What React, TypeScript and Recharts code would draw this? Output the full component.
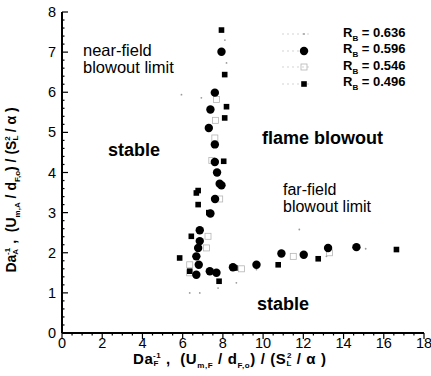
import { ScatterChart, Scatter, XAxis, YAxis } from 'recharts';

// R_B = 0.636 (tiny gray dots)
const rb636 = [
  { x: 5.94, y: 5.94 }, { x: 6.93, y: 5.86 }, { x: 8.18, y: 6.73 }, { x: 8.1, y: 7.3 },
  { x: 6.35, y: 1.0 }, { x: 6.85, y: 1.0 }, { x: 7.76, y: 1.12 }, { x: 8.67, y: 1.25 },
  { x: 9.67, y: 1.58 }, { x: 11.8, y: 2.58 }, { x: 13.15, y: 1.91 }, { x: 15.1, y: 2.1 },
];
// R_B = 0.596 (filled circles)
const rb596 = [
  { x: 7.93, y: 7.01 }, { x: 7.6, y: 5.99 }, { x: 7.38, y: 5.57 }, { x: 7.3, y: 5.11 },
  { x: 7.6, y: 4.7 }, { x: 7.6, y: 4.26 }, { x: 7.71, y: 4.0 }, { x: 7.84, y: 3.72 },
  { x: 7.93, y: 3.68 }, { x: 7.61, y: 3.34 }, { x: 7.38, y: 2.98 }, { x: 6.85, y: 2.56 },
  { x: 6.85, y: 2.29 }, { x: 6.77, y: 2.12 }, { x: 6.68, y: 1.91 }, { x: 6.8, y: 1.7 },
  { x: 6.68, y: 1.45 }, { x: 7.35, y: 1.54 }, { x: 7.68, y: 1.5 }, { x: 8.5, y: 1.64 },
  { x: 9.67, y: 1.7 }, { x: 10.91, y: 1.98 }, { x: 12.02, y: 1.95 },
  { x: 13.23, y: 2.12 }, { x: 14.64, y: 2.14 },
];
// R_B = 0.546 (open squares)
const rb546 = [
  { x: 7.68, y: 5.82 }, { x: 7.63, y: 5.3 }, { x: 7.6, y: 4.86 }, { x: 7.45, y: 4.3 },
  { x: 7.84, y: 3.34 }, { x: 7.26, y: 2.41 }, { x: 7.18, y: 2.12 }, { x: 6.35, y: 1.7 },
  { x: 6.35, y: 1.5 }, { x: 8.92, y: 1.6 }, { x: 11.5, y: 1.91 }, { x: 13.3, y: 2.0 },
];
// R_B = 0.496 (filled squares)
const rb496 = [
  { x: 7.93, y: 7.55 }, { x: 8.09, y: 6.44 }, { x: 8.18, y: 5.64 }, { x: 8.09, y: 5.36 },
  { x: 8.04, y: 4.28 }, { x: 6.68, y: 3.49 }, { x: 6.77, y: 3.55 }, { x: 6.77, y: 3.2 },
  { x: 7.3, y: 3.0 }, { x: 6.43, y: 2.41 }, { x: 5.85, y: 1.87 }, { x: 6.35, y: 1.54 },
  { x: 7.81, y: 1.29 }, { x: 8.6, y: 1.62 }, { x: 10.75, y: 1.7 }, { x: 12.74, y: 1.85 },
  { x: 16.63, y: 2.08 },
];

const xMajor = [0, 2, 4, 6, 8, 10, 12, 14, 16, 18];
const yMajor = [0, 1, 2, 3, 4, 5, 6, 7, 8];
const xTicks = Array.from({ length: 37 }, (_, i) => i * 0.5);
const yTicks = Array.from({ length: 41 }, (_, i) => Math.round(i * 2) / 10);

const font = '"Liberation Sans", Arial, sans-serif';

// ticks point into the plot; dir = -1 for bottom/left, +1 for top/right
const XTick = ({ x, y, payload, dir = -1, label = true }: any) => {
  const major = xMajor.includes(payload.value);
  return (
    <g>
      <line x1={x} x2={x} y1={y} y2={y - dir * (major ? 6 : 2.5)} stroke="#000" strokeWidth={1.2} />
      {major && label && (
        <text x={x} y={y + 15} textAnchor="middle" fontSize={14.5} fontFamily={font} fill="#000">
          {payload.value}
        </text>
      )}
    </g>
  );
};

const YTick = ({ x, y, payload, dir = 1, label = true }: any) => {
  const major = yMajor.includes(payload.value);
  return (
    <g>
      <line x1={x} x2={x + dir * (major ? 6 : 2.5)} y1={y} y2={y} stroke="#000" strokeWidth={1.2} />
      {major && label && (
        <text x={x - 6} y={y + 5} textAnchor="end" fontSize={14.5} fontFamily={font} fill="#000">
          {payload.value}
        </text>
      )}
    </g>
  );
};

const TinyDot = ({ cx, cy }: any) => <circle cx={cx} cy={cy} r={0.9} fill="#9a9a9a" />;
const BigDot = ({ cx, cy }: any) => <circle cx={cx} cy={cy} r={4.2} fill="#000" />;
const OpenSquare = ({ cx, cy }: any) => (
  <rect x={cx - 3} y={cy - 3} width={6} height={6} fill="none" stroke="#b5b5b5" strokeWidth={0.8} />
);
const FilledSquare = ({ cx, cy }: any) => (
  <rect x={cx - 2.8} y={cy - 2.8} width={5.6} height={5.6} fill="#000" />
);

const legendRows = [
  { label: '0.636', marker: <circle cx={24} cy={6} r={0.9} fill="#9a9a9a" /> },
  { label: '0.596', marker: <circle cx={24} cy={6} r={4.2} fill="#000" /> },
  { label: '0.546', marker: <rect x={21} y={3} width={6} height={6} fill="none" stroke="#b5b5b5" strokeWidth={0.8} /> },
  { label: '0.496', marker: <rect x={21.2} y={3.2} width={5.6} height={5.6} fill="#000" /> },
];

const abs = (left: number, top: number, extra: any = {}) => ({
  position: 'absolute' as const,
  left,
  top,
  fontFamily: font,
  color: '#000',
  whiteSpace: 'nowrap' as const,
  lineHeight: 1,
  ...extra,
});

const axisLine = { stroke: '#000', strokeWidth: 2 };
const sm = { fontSize: 8 };

export default function App() {
  return (
    <div style={{ position: 'absolute', left: 0, top: 0, width: 431, height: 376, background: '#fff' }}>
      <ScatterChart width={431} height={376} margin={{ top: 12, right: 7, bottom: 0, left: 0 }}>
        <XAxis
          type="number"
          dataKey="x"
          domain={[0, 18]}
          ticks={xTicks}
          interval={0}
          tick={<XTick />}
          tickLine={false}
          tickSize={0}
          tickMargin={0}
          axisLine={axisLine}
          height={43}
        />
        <XAxis
          xAxisId="top"
          orientation="top"
          type="number"
          domain={[0, 18]}
          ticks={xTicks}
          interval={0}
          tick={<XTick dir={1} label={false} />}
          tickLine={false}
          tickSize={0}
          tickMargin={0}
          axisLine={axisLine}
          height={0}
        />
        <YAxis
          type="number"
          dataKey="y"
          domain={[0, 8]}
          ticks={yTicks}
          interval={0}
          tick={<YTick />}
          tickLine={false}
          tickSize={0}
          tickMargin={0}
          axisLine={axisLine}
          width={62}
        />
        <YAxis
          yAxisId="right"
          orientation="right"
          type="number"
          domain={[0, 8]}
          ticks={yTicks}
          interval={0}
          tick={<YTick dir={-1} label={false} />}
          tickLine={false}
          tickSize={0}
          tickMargin={0}
          axisLine={axisLine}
          width={0}
        />
        <Scatter data={rb636} shape={<TinyDot />} isAnimationActive={false} />
        <Scatter data={rb546} shape={<OpenSquare />} isAnimationActive={false} />
        <Scatter data={rb496} shape={<FilledSquare />} isAnimationActive={false} />
        <Scatter data={rb596} shape={<BigDot />} isAnimationActive={false} />
      </ScatterChart>

      {/* legend */}
      <div style={abs(280, 26)}>
        {legendRows.map((r) => (
          <div key={r.label} style={{ display: 'flex', alignItems: 'center', height: 16.5 }}>
            <svg width={32} height={12}>
              <line x1={2} x2={30} y1={6} y2={6} stroke="#c8c8c8" strokeWidth={0.8} strokeDasharray="2 3" />
              {r.marker}
            </svg>
            <span style={{ marginLeft: 31, fontWeight: 'bold', fontSize: 13 }}>
              R<sub style={sm}>B</sub> = {r.label}
            </span>
          </div>
        ))}
      </div>

      {/* annotations */}
      <div style={abs(83, 42, { fontSize: 16.5 })}>near-field</div>
      <div style={abs(83, 59, { fontSize: 16.5 })}>blowout limit</div>
      <div style={abs(108, 141, { fontSize: 18, fontWeight: 'bold' })}>stable</div>
      <div style={abs(262, 129, { fontSize: 18, fontWeight: 'bold' })}>flame blowout</div>
      <div style={abs(283, 182, { fontSize: 16 })}>far-field</div>
      <div style={abs(283, 199, { fontSize: 16 })}>blowout limit</div>
      <div style={abs(257, 295, { fontSize: 18, fontWeight: 'bold' })}>stable</div>

      {/* axis titles */}
      <div style={abs(133, 351, { fontSize: 15, fontWeight: 'bold', letterSpacing: 0.6 })}>
        Da<sub style={{ ...sm, verticalAlign: '-2px', marginRight: -6 }}>F</sub>
        <sup style={{ ...sm, verticalAlign: '6px' }}>-1</sup> ,&nbsp; (U<sub style={sm}>m,F</sub> / d<sub style={sm}>F,o</sub>) / (S
        <sub style={{ ...sm, verticalAlign: '-2px', marginRight: -5 }}>L</sub>
        <sup style={{ ...sm, verticalAlign: '6px' }}>2</sup> / α )
      </div>
      <div
        style={abs(13, 190, {
          fontSize: 14,
          fontWeight: 'bold',
          transform: 'translate(-50%, -50%) rotate(-90deg)',
        })}
      >
        Da<sub style={{ ...sm, verticalAlign: '-2px', marginRight: -6 }}>A</sub>
        <sup style={{ ...sm, verticalAlign: '6px' }}>-1</sup> ,&nbsp; (U<sub style={sm}>m,A</sub> / d<sub style={sm}>F,o</sub>) / (S
        <sub style={{ ...sm, verticalAlign: '-2px', marginRight: -5 }}>L</sub>
        <sup style={{ ...sm, verticalAlign: '6px' }}>2</sup> / α )
      </div>
    </div>
  );
}
